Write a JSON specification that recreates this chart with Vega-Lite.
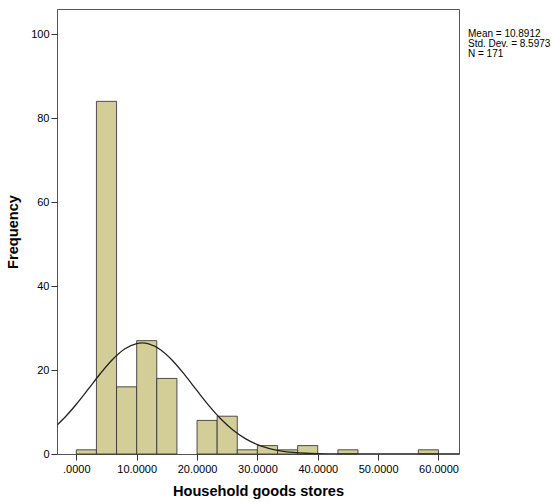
{
  "$schema": "https://vega.github.io/schema/vega-lite/v6.json",
  "width": 402,
  "height": 445,
  "autosize": {"type": "none"},
  "padding": {"left": 57, "top": 9, "right": 94, "bottom": 48},
  "config": {
    "view": {"stroke": "#555555", "strokeWidth": 1, "fill": "#f0f0f0"},
    "font": "Liberation Sans"
  },
  "datasets": {
    "bins": [
      {"start": 0, "end": 3.3333, "count": 1},
      {"start": 3.3333, "end": 6.6667, "count": 84},
      {"start": 6.6667, "end": 10, "count": 16},
      {"start": 10, "end": 13.3333, "count": 27},
      {"start": 13.3333, "end": 16.6667, "count": 18},
      {"start": 20, "end": 23.3333, "count": 8},
      {"start": 23.3333, "end": 26.6667, "count": 9},
      {"start": 26.6667, "end": 30, "count": 1},
      {"start": 30, "end": 33.3333, "count": 2},
      {"start": 33.3333, "end": 36.6667, "count": 1},
      {"start": 36.6667, "end": 40, "count": 2},
      {"start": 43.3333, "end": 46.6667, "count": 1},
      {"start": 56.6667, "end": 60, "count": 1}
    ],
    "curve": [
      {"x": -3.2, "y": 6.9},
      {"x": -2, "y": 8.59},
      {"x": 0, "y": 11.86},
      {"x": 2, "y": 15.49},
      {"x": 4, "y": 19.18},
      {"x": 6, "y": 22.5},
      {"x": 8, "y": 25.0},
      {"x": 10, "y": 26.31},
      {"x": 10.89, "y": 26.45},
      {"x": 12, "y": 26.23},
      {"x": 14, "y": 24.78},
      {"x": 16, "y": 22.17},
      {"x": 18, "y": 18.79},
      {"x": 20, "y": 15.09},
      {"x": 22, "y": 11.48},
      {"x": 24, "y": 8.27},
      {"x": 26, "y": 5.65},
      {"x": 28, "y": 3.65},
      {"x": 30, "y": 2.24},
      {"x": 32, "y": 1.3},
      {"x": 34, "y": 0.71},
      {"x": 36, "y": 0.37},
      {"x": 38, "y": 0.18},
      {"x": 40, "y": 0.086},
      {"x": 44, "y": 0.016},
      {"x": 48, "y": 0.002},
      {"x": 52, "y": 0},
      {"x": 56, "y": 0},
      {"x": 60, "y": 0},
      {"x": 63.4, "y": 0}
    ],
    "stats": [
      {"label": "Mean = 10.8912"},
      {"label": "Std. Dev. = 8.5973"},
      {"label": "N = 171"}
    ]
  },
  "layer": [
    {
      "data": {"name": "bins"},
      "mark": {"type": "rect", "fill": "#d3ce98", "stroke": "#333333", "strokeWidth": 1, "strokeOpacity": 0.85},
      "encoding": {
        "x": {
          "field": "start", "type": "quantitative",
          "scale": {"domain": [-3.2, 63.4], "nice": false, "zero": false},
          "axis": {
            "values": [0, 10, 20, 30, 40, 50, 60],
            "labelExpr": "datum.value == 0 ? '.0000' : format(datum.value, '.4f')",
            "domain": false, "grid": false,
            "tickSize": 6, "tickColor": "#333333",
            "labelFontSize": 11, "labelColor": "#000000", "labelPadding": 3,
            "title": "Household goods stores",
            "titleFontSize": 14.6, "titleFontWeight": "bold", "titleColor": "#000000",
            "titlePadding": 9
          }
        },
        "x2": {"field": "end"},
        "y": {
          "field": "count", "type": "quantitative",
          "scale": {"domain": [0, 106], "nice": false},
          "axis": {
            "values": [0, 20, 40, 60, 80, 100],
            "domain": false, "grid": false,
            "tickSize": 6, "tickColor": "#333333",
            "labelFontSize": 11, "labelColor": "#000000", "labelPadding": 2,
            "title": "Frequency",
            "titleFontSize": 14.6, "titleFontWeight": "bold", "titleColor": "#000000",
            "titlePadding": 10
          }
        },
        "y2": {"datum": 0}
      }
    },
    {
      "data": {"name": "curve"},
      "mark": {"type": "line", "interpolate": "monotone", "color": "#222222", "strokeWidth": 1.3, "clip": true},
      "encoding": {
        "x": {"field": "x", "type": "quantitative"},
        "y": {"field": "y", "type": "quantitative"}
      }
    },
    {
      "data": {"name": "stats"},
      "mark": {"type": "point", "opacity": 0},
      "encoding": {
        "color": {
          "field": "label", "type": "nominal",
          "sort": ["Mean = 10.8912", "Std. Dev. = 8.5973", "N = 171"],
          "scale": {"range": ["#000000", "#000000", "#000000"]},
          "legend": {
            "title": null, "orient": "none", "legendX": 401, "legendY": 20,
            "symbolSize": 0, "symbolOpacity": 0, "symbolStrokeWidth": 0,
            "labelFontSize": 10, "labelColor": "#000000", "labelOffset": 0,
            "rowPadding": -1.3, "padding": 0, "labelLimit": 200
          }
        }
      }
    }
  ]
}
